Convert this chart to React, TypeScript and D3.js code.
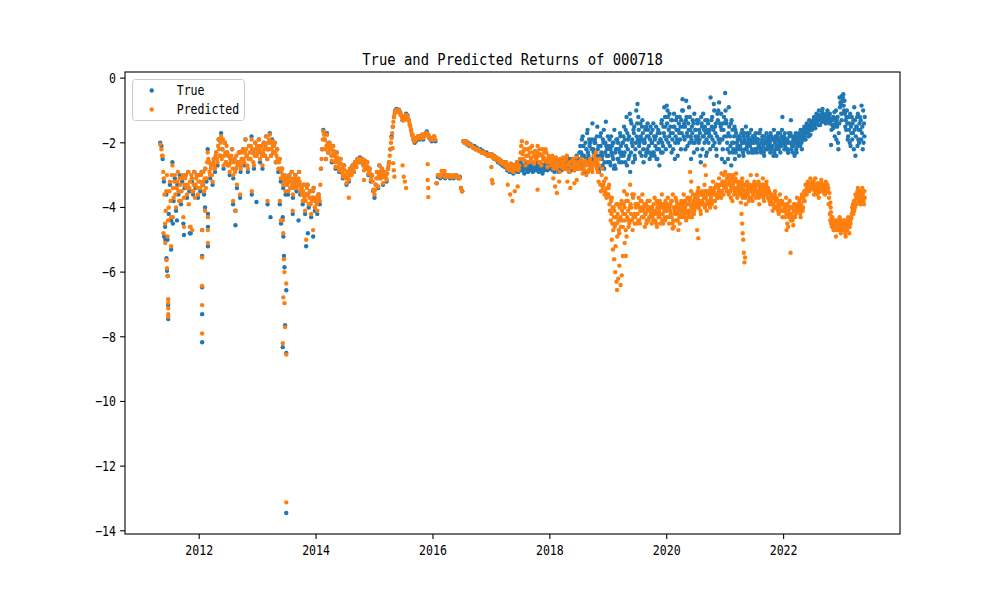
import React from "react";
import * as d3 from "d3";

// values sampled every 1/48 year, one array per calendar year (2011 is right-aligned to year end).
// "b"/"c" arrays are extra readings taken between those samples where the cloud is dense.
const STEP = 1 / 48;

const true2011 = [-2.0, -2.1, -2.5, -3.2, -4.6, -3.6, -5.0, -4.2, -3.3, -4.4, -2.6, -3.8, -3.1, -4.1, -3.3, -3.6, -3.0, -3.9, -3.2, -4.5, -3.4, -3.0, -3.7, -2.9, -3.5, -4.8, -3.2, -3.6, -2.9, -3.4, -3.0, -3.7];
const true2012 = [
  -3.0, -3.5, -2.9, -3.3, -3.6, -2.8, -3.2, -2.2, -2.6, -3.1, -2.7, -3.3,
  -2.5, -2.9, -2.3, -2.7, -1.9, -2.4, -1.7, -2.2, -2.8, -2.0, -2.6, -2.3,
  -2.4, -3.0, -2.6, -2.2, -3.1, -2.5, -2.8, -3.4, -2.6, -2.3, -2.9, -2.5,
  -2.2, -2.7, -1.9, -2.4, -2.9, -2.1, -2.5, -1.8, -2.3, -2.8, -2.0, -2.4,
];
const true2013 = [
  -2.3, -1.9, -2.6, -2.1, -2.8, -2.0, -2.4, -1.8, -2.5, -2.2, -1.7, -2.4,
  -1.9, -2.3, -2.0, -2.6, -2.2, -2.9, -2.5, -3.2, -2.8, -3.4, -3.0, -3.6,
  -3.1, -3.6, -3.0, -3.4, -2.9, -3.7, -3.2, -3.0, -3.5, -3.3, -2.9, -3.6,
  -3.4, -3.9, -3.3, -4.2, -3.6, -3.3, -4.0, -3.5, -4.3, -3.7, -3.4, -4.1,
];
const true2014 = [
  -3.8, -4.2, -3.6, -3.9, -2.8, -2.2, -1.6, -1.9, -2.5, -1.7, -2.3, -2.0,
  -2.2, -2.6, -2.1, -2.4, -2.8, -2.3, -2.6, -2.9, -2.5, -2.8, -3.1, -2.7,
  -3.0, -3.3, -2.9, -3.2, -2.8, -3.0, -2.7, -2.9, -2.6, -2.75, -2.5, -2.6,
  -2.45, -2.6, -2.5, -2.7, -2.55, -2.8, -2.6, -3.0, -2.8, -3.2, -3.0, -3.5,
];
const true2015 = [
  -3.7, -3.3, -2.9, -3.4, -2.7, -3.1, -2.8, -3.3, -2.9, -3.0, -3.2, -2.8,
  -2.6, -2.2, -1.8, -1.5, -1.2, -1.0, -0.95, -1.0, -0.98, -1.05, -1.15, -1.3,
  -1.3, -1.2, -1.1, -1.15, -1.3, -1.45, -1.6, -1.75, -1.9, -2.0, -1.95, -1.85,
  -1.8, -1.9, -1.85, -1.75, -1.9, -1.8, -1.7, -1.65, -1.75, -1.85, -1.9, -1.95,
];
const true2016 = [
  -1.9, -1.8, -1.95, -3.25, -3.05, -3.0, -3.1, -3.05, -3.0, -3.05, -3.1, -3.0,
  -3.05, -3.0, -3.1, -3.05, -3.05, -3.1, -3.05, -3.0, -3.05, -3.1, -3.05, -3.4,
  -3.5, -1.95, -2.0, -1.95, -2.05, -2.0, -2.1, -2.05, -2.1, -2.15, -2.1, -2.2,
  -2.15, -2.2, -2.25, -2.2, -2.3, -2.25, -2.3, -2.35, -2.3, -2.4, -2.35, -2.4,
];
const true2017 = [
  -2.35, -2.45, -2.4, -2.5, -2.45, -2.55, -2.5, -2.6, -2.55, -2.7, -2.6, -2.75,
  -2.6, -2.85, -2.7, -2.9, -2.65, -2.8, -2.95, -2.7, -2.85, -2.6, -2.9, -2.75,
  -2.6, -2.85, -2.7, -2.95, -2.75, -2.6, -2.9, -2.7, -2.8, -2.65, -2.9, -2.75,
  -2.7, -2.85, -2.6, -2.9, -2.75, -2.65, -2.95, -2.7, -2.8, -2.6, -2.85, -2.7,
];
const true2017b = [
  -2.4, -2.45, -2.5, -2.5, -2.5, -2.6, -2.55, -2.65, -2.6, -2.7, -2.65, -2.7,
  -2.75, -2.7, -2.8, -2.75, -2.9, -2.7, -2.8, -2.85, -2.75, -2.9, -2.7, -2.85,
  -2.8, -2.7, -2.85, -2.8, -2.65, -2.8, -2.75, -2.85, -2.7, -2.8, -2.75, -2.85,
  -2.8, -2.7, -2.8, -2.75, -2.85, -2.8, -2.7, -2.85, -2.7, -2.75, -2.8, -2.75,
];
const true2018 = [
  -2.6, -2.8, -2.5, -2.75, -2.9, -2.6, -2.7, -2.55, -2.85, -2.65, -2.75, -2.5,
  -2.6, -2.8, -2.45, -2.7, -2.9, -2.6, -2.75, -2.5, -2.85, -2.6, -2.4, -2.7,
  -2.5, -2.1, -2.8, -1.8, -2.4, -2.9, -2.2, -1.6, -2.6, -2.0, -2.7, -1.4,
  -2.3, -1.9, -2.7, -1.5, -2.1, -2.8, -1.7, -2.4, -2.0, -2.6, -1.35, -2.2,
];
const true2018b = [
  -2.7, -2.55, -2.85, -2.65, -2.75, -2.5, -2.8, -2.9, -2.6, -2.75, -2.55, -2.7,
  -2.75, -2.55, -2.65, -2.85, -2.5, -2.7, -2.6, -2.8, -2.55, -2.7, -2.6, -2.5,
  -2.3, -2.6, -1.9, -2.4, -2.7, -2.0, -2.5, -2.3, -1.9, -2.8, -2.2, -2.5,
  -2.6, -2.0, -2.4, -2.2, -2.9, -1.8, -2.3, -2.7, -1.6, -2.3, -2.1, -2.6,
];
const true2018c = [
  -2.8, -2.65, -2.6, -2.8, -2.55, -2.75, -2.65, -2.6, -2.75, -2.85, -2.6, -2.8,
  -2.5, -2.7, -2.8, -2.55, -2.75, -2.85, -2.5, -2.65, -2.75, -2.5, -2.8, -2.6,
  -2.7, -2.3, -2.4, -2.1, -2.9, -2.5, -1.7, -2.4, -2.1, -2.5, -1.9, -2.2,
  -2.0, -2.5, -1.8, -2.9, -2.4, -2.1, -2.5, -1.9, -2.8, -2.0, -2.4, -1.8,
];
const true2019 = [
  -2.4, -1.9, -2.7, -2.1, -2.5, -1.6, -2.8, -2.2, -2.0, -2.6, -1.8, -2.3,
  -2.0, -1.5, -2.6, -1.2, -2.2, -1.8, -2.9, -1.4, -2.1, -1.7, -2.5, -1.0,
  -0.8, -1.6, -2.3, -1.9, -1.3, -2.6, -2.0, -1.5, -2.2, -1.8, -2.5, -1.7,
  -2.0, -1.4, -2.4, -1.8, -2.2, -1.6, -2.7, -1.9, -1.3, -2.1, -0.9, -1.5,
];
const true2019b = [
  -2.1, -2.6, -1.8, -2.4, -2.0, -2.7, -2.2, -1.9, -2.5, -2.3, -2.1, -2.6,
  -1.8, -2.3, -1.6, -2.7, -1.9, -2.4, -1.3, -2.0, -2.6, -1.5, -2.2, -1.8,
  -1.9, -2.1, -1.4, -2.4, -1.7, -2.0, -1.6, -2.3, -1.4, -2.1, -1.9, -2.4,
  -1.6, -2.3, -1.9, -1.5, -2.5, -2.0, -1.7, -2.3, -2.0, -1.5, -1.8, -2.2,
];
const true2019c = [
  -2.6, -2.2, -2.3, -2.0, -2.8, -2.3, -1.9, -2.5, -2.2, -1.7, -2.4, -2.0,
  -2.4, -1.9, -2.1, -1.7, -2.5, -1.1, -2.3, -1.9, -1.6, -2.4, -2.0, -1.4,
  -1.2, -2.0, -1.8, -1.5, -2.2, -1.9, -2.4, -1.8, -1.6, -2.3, -1.5, -2.0,
  -2.3, -1.8, -2.1, -2.5, -1.7, -2.2, -1.9, -1.4, -2.3, -1.7, -1.2, -1.9,
];
const true2020 = [
  -0.85, -1.2, -1.8, -1.5, -2.3, -1.7, -1.1, -2.0, -1.6, -2.4, -1.4, -1.9,
  -1.3, -0.65, -1.8, -1.5, -0.7, -2.1, -1.6, -1.2, -2.5, -1.7, -1.4, -2.0,
  -1.6, -2.2, -1.3, -1.9, -2.6, -1.5, -1.1, -2.0, -1.7, -2.3, -1.4, -1.8,
  -0.6, -1.5, -2.1, -1.0, -1.7, -2.4, -1.3, -0.75, -1.9, -1.6, -2.2, -1.2,
];
const true2020b = [
  -1.4, -2.0, -1.1, -1.7, -1.3, -2.2, -1.5, -1.8, -1.2, -2.0, -1.7, -1.5,
  -1.7, -1.0, -1.4, -2.2, -1.2, -1.8, -0.9, -1.6, -1.9, -1.3, -2.3, -1.6,
  -1.9, -1.4, -2.0, -1.7, -1.2, -2.2, -1.8, -1.5, -2.4, -1.3, -2.0, -1.6,
  -1.8, -1.2, -1.6, -2.0, -1.4, -1.8, -1.0, -2.0, -1.5, -2.5, -1.4, -1.8,
];
const true2020c = [
  -1.0, -1.6, -2.1, -1.3, -1.9, -1.5, -2.5, -1.3, -1.9, -1.6, -1.2, -2.2,
  -1.0, -1.5, -1.9, -1.3, -1.7, -1.4, -2.0, -1.8, -1.5, -2.0, -1.1, -1.8,
  -1.3, -1.8, -1.6, -2.4, -1.4, -1.8, -1.6, -1.3, -1.9, -1.6, -1.7, -2.2,
  -1.3, -1.9, -0.8, -1.5, -2.2, -1.1, -1.9, -1.4, -1.1, -1.9, -1.6, -2.6,
];
const true2021 = [
  -0.46, -1.4, -2.2, -0.9, -1.8, -2.7, -1.6, -2.0, -2.5, -1.7, -2.1, -1.9,
  -1.8, -2.2, -1.6, -2.4, -1.9, -1.5, -2.1, -2.3, -1.7, -2.0, -2.2, -1.8,
  -2.0, -1.7, -2.3, -1.9, -2.1, -1.6, -2.2, -1.8, -2.4, -2.0, -1.7, -2.1,
  -1.9, -2.3, -1.8, -2.1, -1.6, -2.0, -2.4, -1.9, -2.2, -1.7, -2.1, -1.2,
];
const true2021b = [
  -1.0, -1.8, -2.5, -1.5, -2.1, -1.3, -2.3, -1.8, -1.6, -2.2, -1.9, -2.4,
  -2.1, -1.7, -2.0, -1.8, -2.2, -2.0, -1.7, -1.9, -2.1, -1.6, -2.0, -2.3,
  -1.8, -2.2, -1.9, -2.1, -1.7, -2.3, -1.9, -2.1, -1.8, -2.2, -2.0, -1.9,
  -2.1, -1.7, -2.2, -1.9, -2.3, -1.8, -2.1, -1.7, -2.0, -2.3, -1.8, -2.0,
];
const true2021c = [
  -1.3, -2.0, -1.7, -2.3, -1.4, -2.0, -2.2, -1.5, -2.3, -2.0, -1.8, -2.2,
  -1.9, -2.0, -2.3, -1.7, -2.0, -2.2, -1.8, -2.0, -1.9, -2.3, -1.8, -1.9,
  -2.2, -1.9, -2.0, -1.7, -2.2, -2.0, -1.8, -2.3, -2.0, -1.9, -2.2, -1.8,
  -2.0, -2.2, -1.9, -2.4, -1.9, -2.2, -1.8, -2.1, -1.9, -2.0, -1.6, -1.9,
];
const true2022 = [
  -2.0, -1.7, -2.2, -1.9, -2.3, -1.8, -1.3, -2.1, -1.9, -2.4, -1.7, -2.0,
  -2.1, -1.8, -1.6, -2.2, -1.7, -1.5, -1.9, -1.4, -1.65, -1.3, -1.75, -1.5,
  -1.4, -1.2, -1.55, -1.1, -1.3, -1.0, -1.45, -1.2, -0.95, -1.35, -1.15, -1.25,
  -1.0, -1.3, -1.1, -2.07, -1.45, -1.2, -1.8, -1.0, -1.5, -2.2, -0.6, -0.8,
];
const true2022b = [
  -1.8, -2.1, -1.9, -2.2, -1.7, -2.0, -2.2, -1.8, -2.1, -1.9, -2.2, -1.8,
  -1.9, -2.0, -1.8, -1.9, -1.6, -1.8, -1.5, -1.7, -1.5, -1.6, -1.4, -1.6,
  -1.3, -1.45, -1.25, -1.35, -1.15, -1.3, -1.2, -1.35, -1.1, -1.25, -1.3, -1.1,
  -1.2, -1.15, -1.35, -1.6, -1.3, -1.5, -1.25, -1.9, -1.2, -1.7, -0.9, -1.1,
];
const true2022c = [
  -2.2, -1.9, -2.0, -2.3, -2.0, -1.7, -2.0, -2.3, -1.8, -2.0, -2.3, -2.1,
  -1.7, -2.1, -2.0, -1.7, -1.9, -1.7, -1.6, -1.5, -1.8, -1.45, -1.6, -1.35,
  -1.5, -1.3, -1.4, -1.2, -1.45, -1.15, -1.3, -1.05, -1.25, -1.15, -1.4, -1.2,
  -1.1, -1.4, -1.25, -1.3, -1.55, -1.05, -1.4, -1.3, -2.0, -1.4, -0.75, -1.3,
];
const true2023 = [-0.55, -0.5, -0.7, -1.3, -1.0, -1.8, -1.4, -2.1, -1.2, -1.7, -0.9, -2.4, -1.5, -1.1, -2.0, -1.6, -0.85, -2.2, -1.4];
const true2023b = [-0.7, -0.85, -1.1, -1.6, -1.4, -1.2, -2.0, -1.5, -1.9, -1.3, -1.6, -1.8, -1.2, -1.9, -1.4, -1.3, -1.7, -1.0, -1.8];
const true2023c = [-0.6, -1.0, -1.5, -1.2, -1.9, -1.6, -1.1, -1.7, -1.4, -2.2, -1.3, -1.5, -2.1, -1.6, -1.2, -1.9, -1.5, -2.0, -1.2];

const pred2011 = [-2.05, -2.2, -2.4, -3.1, -4.5, -3.5, -4.9, -4.0, -3.2, -4.3, -2.7, -3.7, -3.0, -4.0, -3.2, -3.5, -3.1, -3.8, -3.1, -4.3, -3.3, -3.0, -3.6, -2.9, -3.4, -4.6, -3.1, -3.5, -2.9, -3.3, -3.0, -3.6];
const pred2011b = [-2.4, -2.9, -3.6, -4.1, -3.0, -4.4, -3.5, -3.8, -3.0, -3.4, -3.2, -3.6, -3.4, -2.9, -3.8, -3.3, -3.5, -3.0, -3.7, -3.1, -3.4, -3.3, -3.9, -3.2, -3.0, -3.5, -3.3, -3.7, -3.1, -3.4, -3.2];
const pred2012 = [
  -3.0, -3.4, -2.9, -3.2, -3.5, -2.8, -3.1, -2.3, -2.6, -3.0, -2.7, -3.2,
  -2.5, -2.8, -2.3, -2.6, -1.9, -2.4, -1.8, -2.2, -2.7, -2.0, -2.6, -2.3,
  -2.4, -2.9, -2.6, -2.2, -3.0, -2.5, -2.8, -3.3, -2.6, -2.3, -2.8, -2.5,
  -2.2, -2.6, -1.9, -2.4, -2.8, -2.1, -2.5, -1.9, -2.3, -2.7, -2.0, -2.4,
];
const pred2012b = [
  -3.2, -3.0, -3.3, -2.9, -3.1, -3.4, -2.6, -2.5, -2.9, -2.8, -3.0, -2.6,
  -2.7, -2.4, -2.5, -2.1, -2.2, -2.0, -2.5, -1.9, -2.4, -2.3, -2.1, -2.7,
  -2.7, -2.5, -2.4, -2.8, -2.6, -2.9, -2.4, -2.7, -2.3, -2.6, -2.7, -2.3,
  -2.5, -2.3, -2.2, -2.7, -2.5, -2.3, -2.1, -2.2, -2.6, -2.4, -2.2, -2.1,
];
const pred2013 = [
  -2.3, -1.9, -2.5, -2.1, -2.7, -2.0, -2.4, -1.8, -2.5, -2.2, -1.75, -2.4,
  -1.95, -2.3, -2.0, -2.6, -2.2, -2.8, -2.5, -3.1, -2.8, -3.3, -3.0, -3.5,
  -3.1, -3.5, -3.0, -3.4, -2.9, -3.6, -3.2, -3.0, -3.4, -3.3, -2.9, -3.5,
  -3.4, -3.8, -3.3, -4.1, -3.6, -3.3, -3.9, -3.5, -4.2, -3.7, -3.4, -4.0,
];
const pred2013b = [
  -2.1, -2.2, -2.3, -2.4, -2.3, -2.2, -2.1, -2.2, -2.0, -1.9, -2.0, -2.2,
  -2.1, -2.1, -2.3, -2.4, -2.5, -2.6, -2.8, -2.9, -3.0, -3.1, -3.2, -3.3,
  -3.3, -3.2, -3.2, -3.1, -3.3, -3.4, -3.1, -3.3, -3.2, -3.1, -3.2, -3.3,
  -3.6, -3.5, -3.7, -3.8, -3.4, -3.6, -3.7, -3.9, -3.8, -3.5, -3.7, -3.8,
];
const pred2014 = [
  -3.7, -4.1, -3.6, -3.8, -2.8, -2.2, -1.65, -1.9, -2.5, -1.75, -2.3, -2.0,
  -2.2, -2.55, -2.1, -2.4, -2.75, -2.3, -2.6, -2.85, -2.5, -2.8, -3.05, -2.7,
  -3.0, -3.25, -2.9, -3.15, -2.8, -3.0, -2.7, -2.9, -2.6, -2.75, -2.5, -2.6,
  -2.5, -2.6, -2.5, -2.7, -2.55, -2.8, -2.6, -2.95, -2.8, -3.15, -3.0, -3.45,
];
const pred2014b = [
  -3.9, -3.8, -3.7, -3.3, -2.5, -1.9, -1.75, -2.2, -2.1, -2.0, -2.15, -2.1,
  -2.4, -2.35, -2.25, -2.6, -2.5, -2.45, -2.75, -2.65, -2.65, -2.95, -2.85, -2.85,
  -3.1, -3.1, -3.05, -3.0, -2.9, -2.85, -2.8, -2.75, -2.7, -2.6, -2.55, -2.5,
  -2.55, -2.55, -2.6, -2.6, -2.65, -2.7, -2.75, -2.85, -2.95, -3.05, -3.2, -3.5,
];
const pred2015 = [
  -3.6, -3.3, -2.9, -3.35, -2.7, -3.1, -2.8, -3.25, -2.9, -3.0, -3.15, -2.8,
  -2.6, -2.2, -1.85, -1.5, -1.2, -1.05, -1.0, -1.05, -1.0, -1.1, -1.15, -1.3,
  -1.3, -1.2, -1.15, -1.2, -1.3, -1.45, -1.6, -1.75, -1.9, -1.95, -1.9, -1.85,
  -1.8, -1.85, -1.85, -1.75, -1.85, -1.8, -1.7, -1.7, -1.75, -1.8, -1.85, -1.9,
];
const pred2015b = [
  -3.45, -3.1, -3.1, -3.0, -2.9, -2.95, -3.05, -3.05, -2.95, -3.1, -2.95, -2.7,
  -2.4, -2.0, -1.7, -1.35, -1.1, -1.0, -1.0, -1.0, -1.05, -1.1, -1.2, -1.3,
  -1.25, -1.15, -1.15, -1.25, -1.35, -1.5, -1.7, -1.8, -1.95, -1.9, -1.85, -1.8,
  -1.85, -1.8, -1.8, -1.8, -1.8, -1.75, -1.7, -1.75, -1.8, -1.85, -1.9, -1.9,
];
const pred2016 = [
  -1.85, -1.8, -1.9, -3.25, -3.0, -3.0, -3.05, -3.0, -2.9, -2.9, -3.05, -3.0,
  -3.05, -3.0, -3.05, -3.05, -3.0, -3.05, -3.05, -3.0, -3.05, -3.05, -3.1, -3.4,
  -3.5, -1.95, -2.0, -1.95, -2.0, -2.05, -2.05, -2.1, -2.1, -2.15, -2.15, -2.2,
  -2.2, -2.2, -2.25, -2.25, -2.3, -2.3, -2.3, -2.35, -2.35, -2.4, -2.35, -2.4,
];
const pred2017 = [
  -2.35, -2.45, -2.4, -2.5, -2.45, -2.5, -2.5, -2.6, -2.55, -2.65, -2.6, -2.7,
  -2.6, -2.8, -2.7, -2.85, -2.65, -2.75, -2.9, -2.7, -2.8, -2.6, -2.85, -2.7,
  -2.3, -1.95, -2.5, -2.2, -2.7, -2.0, -2.4, -2.6, -2.15, -2.45, -2.3, -2.65,
  -2.25, -2.5, -2.1, -2.6, -2.35, -2.7, -2.2, -2.45, -2.55, -2.3, -2.75, -2.4,
];
const pred2017b = [
  -2.4, -2.45, -2.45, -2.5, -2.5, -2.55, -2.55, -2.6, -2.6, -2.65, -2.65, -2.7,
  -2.7, -2.75, -2.8, -2.75, -2.7, -2.85, -2.8, -2.75, -2.7, -2.75, -2.8, -2.5,
  -2.1, -2.35, -2.25, -2.55, -2.4, -2.2, -2.6, -2.3, -2.5, -2.1, -2.6, -2.4,
  -2.5, -2.3, -2.4, -2.2, -2.6, -2.4, -2.5, -2.3, -2.2, -2.6, -2.5, -2.6,
];
const pred2018 = [
  -2.5, -2.7, -2.4, -2.8, -2.6, -2.45, -2.75, -2.55, -2.9, -2.6, -2.7, -2.45,
  -2.55, -2.8, -2.4, -2.7, -2.9, -2.6, -2.75, -2.5, -2.85, -2.6, -2.45, -2.7,
  -2.6, -2.8, -2.5, -2.95, -2.7, -2.55, -3.0, -2.65, -2.85, -2.5, -2.75, -2.9,
  -2.4, -2.7, -2.3, -2.6, -3.2, -2.5, -3.5, -2.8, -3.3, -3.6, -3.1, -3.4,
];
const pred2018b = [
  -2.6, -2.55, -2.65, -2.5, -2.7, -2.8, -2.6, -2.7, -2.5, -2.75, -2.6, -2.8,
  -2.7, -2.5, -2.65, -2.85, -2.6, -2.75, -2.55, -2.7, -2.6, -2.75, -2.8, -2.6,
  -2.7, -2.55, -2.8, -2.6, -2.85, -2.7, -2.6, -2.9, -2.7, -2.6, -2.8, -2.7,
  -2.6, -2.5, -2.8, -2.9, -2.7, -3.3, -3.0, -3.4, -3.2, -3.5, -3.7, -3.6,
];
const pred2019 = [
  -3.6, -3.9, -4.4, -3.7, -4.7, -4.1, -5.2, -4.5, -3.9, -4.8, -4.3, -3.8,
  -4.6, -3.5, -4.2, -4.9, -3.8, -4.4, -3.3, -4.0, -4.7, -3.6, -4.3, -3.9,
  -4.2, -3.7, -4.5, -4.0, -3.6, -4.3, -4.6, -3.9, -4.1, -4.4, -3.8, -4.2,
  -4.0, -4.4, -3.7, -4.2, -4.6, -3.9, -4.3, -4.0, -3.6, -4.5, -4.1, -3.8,
];
const pred2019b = [
  -3.4, -4.1, -3.8, -4.5, -4.0, -4.6, -4.3, -4.9, -4.4, -4.0, -4.6, -4.1,
  -4.2, -4.0, -4.7, -3.6, -4.1, -4.5, -3.9, -4.4, -3.7, -4.2, -3.9, -4.5,
  -3.9, -4.4, -4.1, -3.8, -4.3, -4.0, -4.2, -4.5, -3.8, -4.0, -4.3, -4.0,
  -4.3, -3.9, -4.1, -4.5, -4.0, -4.3, -3.8, -4.2, -4.4, -3.9, -4.3, -4.1,
];
const pred2019c = [
  -3.3, -3.7, -4.2, -4.0, -4.3, -4.5, -3.9, -4.2, -4.7, -4.4, -3.9, -4.4,
  -3.9, -4.4, -3.8, -4.3, -4.6, -4.0, -4.2, -3.6, -4.3, -4.5, -4.0, -4.2,
  -4.4, -4.0, -3.8, -4.3, -4.1, -3.9, -4.2, -4.4, -4.0, -4.3, -4.1, -4.5,
  -4.1, -4.2, -4.4, -3.8, -4.2, -4.1, -4.5, -3.9, -4.2, -4.0, -4.4, -4.0,
];
const pred2020 = [
  -4.1, -3.7, -4.5, -3.9, -4.3, -3.6, -4.6, -4.0, -3.8, -4.4, -3.9, -4.2,
  -3.8, -4.3, -3.6, -4.0, -4.4, -3.7, -4.1, -3.9, -3.5, -4.2, -3.8, -4.0,
  -3.6, -4.0, -3.4, -3.8, -4.2, -3.5, -3.9, -3.3, -3.7, -4.1, -3.5, -3.8,
  -3.4, -3.9, -3.2, -3.6, -4.0, -3.3, -3.7, -3.1, -3.5, -2.95, -3.3, -3.0,
];
const pred2020b = [
  -3.9, -4.3, -4.0, -4.2, -3.8, -4.4, -4.1, -3.7, -4.2, -4.0, -4.3, -3.9,
  -4.1, -3.9, -4.2, -3.8, -4.1, -3.9, -4.3, -3.7, -4.0, -3.9, -4.2, -3.7,
  -3.9, -3.7, -4.0, -3.6, -3.9, -3.8, -3.6, -4.0, -3.5, -3.8, -3.9, -3.6,
  -3.7, -3.5, -3.8, -3.4, -3.6, -3.7, -3.4, -3.6, -3.3, -3.5, -3.2, -3.4,
];
const pred2020c = [
  -4.3, -4.0, -4.1, -3.8, -4.5, -4.0, -4.2, -4.4, -3.9, -4.1, -4.5, -4.0,
  -3.9, -4.1, -3.8, -4.3, -3.9, -4.2, -3.8, -4.1, -4.3, -3.6, -4.1, -3.9,
  -3.8, -3.5, -3.9, -4.1, -3.6, -3.9, -3.7, -3.5, -3.9, -3.6, -3.8, -4.0,
  -3.6, -3.8, -3.5, -3.8, -3.3, -3.6, -3.5, -3.3, -3.7, -3.2, -3.6, -3.3,
];
const pred2021 = [
  -2.9, -3.3, -3.1, -3.6, -3.0, -3.4, -3.8, -3.2, -3.5, -2.95, -3.7, -3.3,
  -3.4, -3.85, -3.1, -3.6, -3.3, -3.9, -3.2, -3.5, -3.7, -3.0, -3.4, -3.6,
  -3.2, -3.7, -3.0, -3.5, -3.9, -3.3, -3.6, -3.1, -3.8, -3.4, -3.2, -3.7,
  -3.5, -3.9, -3.6, -4.1, -3.7, -3.5, -4.0, -3.8, -4.2, -3.6, -3.9, -4.3,
];
const pred2021b = [
  -3.2, -3.5, -3.0, -3.3, -3.5, -3.1, -3.3, -3.6, -3.1, -3.4, -3.2, -3.5,
  -3.3, -3.5, -3.7, -3.3, -3.5, -3.6, -3.4, -3.8, -3.3, -3.5, -3.8, -3.3,
  -3.5, -3.3, -3.6, -3.2, -3.4, -3.6, -3.4, -3.7, -3.3, -3.5, -3.6, -3.4,
  -3.8, -3.6, -3.9, -3.7, -4.0, -3.8, -3.7, -4.1, -3.9, -3.8, -4.1, -3.9,
];
const pred2021c = [
  -3.4, -3.1, -3.5, -3.2, -3.7, -3.3, -3.0, -3.4, -3.2, -3.6, -3.4, -3.2,
  -3.6, -3.2, -3.4, -3.5, -3.7, -3.3, -3.6, -3.4, -3.5, -3.7, -3.5, -3.4,
  -3.4, -3.5, -3.3, -3.7, -3.5, -3.4, -3.3, -3.5, -3.6, -3.3, -3.5, -3.5,
  -3.7, -3.8, -3.7, -3.9, -3.6, -4.0, -3.8, -3.9, -4.0, -4.1, -3.8, -4.1,
];
const pred2022 = [
  -3.9, -4.3, -3.7, -4.5, -4.1, -3.8, -4.4, -4.0, -4.55, -3.9, -4.2, -3.7,
  -4.1, -3.8, -4.3, -3.6, -4.0, -3.5, -3.3, -3.6, -3.2, -3.5, -3.1, -3.4,
  -3.3, -3.6, -3.1, -3.45, -3.25, -3.7, -3.35, -3.15, -3.5, -3.3, -3.6, -3.4,
  -3.3, -3.9, -4.2, -4.5, -4.3, -4.7, -4.4, -4.9, -4.5, -4.6, -4.3, -4.8,
];
const pred2022b = [
  -4.1, -4.0, -4.2, -3.9, -4.3, -4.0, -4.2, -4.4, -4.1, -4.3, -4.0, -4.0,
  -3.9, -4.1, -3.9, -4.0, -3.7, -3.8, -3.5, -3.4, -3.45, -3.3, -3.35, -3.25,
  -3.45, -3.35, -3.5, -3.3, -3.55, -3.4, -3.5, -3.3, -3.4, -3.55, -3.35, -3.5,
  -3.5, -3.7, -4.4, -4.3, -4.6, -4.5, -4.6, -4.4, -4.7, -4.5, -4.4, -4.6,
];
const pred2022c = [
  -4.0, -4.1, -3.9, -4.2, -4.0, -4.2, -4.0, -4.3, -3.9, -4.1, -4.1, -3.9,
  -4.0, -4.2, -3.7, -4.1, -3.8, -3.6, -3.45, -3.3, -3.35, -3.4, -3.3, -3.2,
  -3.2, -3.4, -3.3, -3.6, -3.35, -3.45, -3.25, -3.4, -3.3, -3.45, -3.2, -3.3,
  -3.4, -3.55, -4.0, -4.6, -4.4, -4.5, -4.7, -4.55, -4.6, -4.4, -4.7, -4.5,
];
const pred2023 = [-4.5, -4.7, -4.4, -4.9, -4.6, -4.3, -4.8, -4.5, -4.2, -3.9, -4.1, -3.6, -3.9, -3.4, -3.7, -3.5, -3.8, -3.6, -3.9];
const pred2023b = [-4.6, -4.5, -4.65, -4.4, -4.7, -4.5, -4.6, -4.35, -4.0, -4.2, -3.8, -3.9, -3.6, -3.7, -3.5, -3.9, -3.6, -3.7, -3.5];
const pred2023c = [-4.4, -4.6, -4.8, -4.5, -4.4, -4.6, -4.4, -4.3, -4.1, -3.8, -4.0, -3.7, -3.5, -3.8, -3.6, -3.7, -3.4, -3.8, -3.7];

// isolated points off the main band: [year, value]
const trueOutliers: [number, number][] = [
  [2011.40, -4.9], [2011.42, -5.0], [2011.44, -5.57], [2011.45, -5.96], [2011.46, -6.12],
  [2011.47, -7.02], [2011.47, -7.45], [2011.52, -5.3], [2011.55, -4.5], [2011.62, -4.4],
  [2011.74, -4.85], [2011.84, -4.8],
  [2012.05, -4.7], [2012.05, -5.5], [2012.05, -6.47], [2012.05, -7.3], [2012.05, -8.17],
  [2012.10, -4.0], [2012.15, -4.2], [2012.15, -4.6], [2012.15, -5.2], [2012.58, -3.9],
  [2012.62, -4.1], [2012.62, -4.55], [2012.70, -3.7], [2012.90, -3.6], [2012.98, -3.83],
  [2013.17, -3.9], [2013.22, -4.3], [2013.38, -3.9], [2013.40, -4.5], [2013.43, -4.3],
  [2013.44, -4.9], [2013.45, -5.5], [2013.46, -5.85], [2013.49, -6.56], [2013.47, -7.64],
  [2013.43, -8.32], [2013.49, -8.5], [2013.49, -13.45], [2013.60, -4.2], [2013.70, -4.4],
  [2013.83, -5.2], [2013.86, -4.8], [2013.95, -4.9],
];
const predOutliers: [number, number][] = [
  [2011.39, -4.8], [2011.42, -5.1], [2011.44, -5.63], [2011.45, -5.88], [2011.46, -6.12],
  [2011.47, -6.84], [2011.47, -6.95], [2011.47, -7.12], [2011.47, -7.3], [2011.47, -7.38],
  [2011.52, -5.2], [2011.55, -4.3], [2011.74, -4.6], [2011.84, -4.6], [2011.88, -4.7],
  [2012.05, -4.7], [2012.05, -5.55], [2012.05, -6.43], [2012.05, -7.02], [2012.05, -7.9],
  [2012.10, -4.1], [2012.15, -4.3], [2012.15, -4.7], [2012.15, -5.1], [2012.58, -3.8],
  [2012.62, -4.1], [2012.70, -3.6], [2012.90, -3.5],
  [2013.17, -3.8], [2013.38, -3.8], [2013.40, -4.4], [2013.43, -4.4], [2013.44, -4.8],
  [2013.45, -5.6], [2013.46, -6.0], [2013.49, -6.35], [2013.44, -6.78], [2013.46, -6.96],
  [2013.47, -7.7], [2013.43, -8.2], [2013.49, -8.55], [2013.49, -13.12], [2013.60, -4.1],
  [2013.83, -5.0], [2013.95, -4.7],
  [2014.56, -3.7], [2014.82, -2.85], [2014.82, -3.15], [2015.31, -2.17], [2015.32, -2.63],
  [2015.33, -2.85], [2015.34, -3.05], [2015.48, -2.7], [2015.50, -3.05], [2015.52, -3.2],
  [2015.54, -3.4], [2015.91, -2.66], [2015.91, -3.15], [2015.92, -3.4], [2015.92, -3.68],
  [2016.15, -2.87], [2016.20, -2.87],
  [2017.00, -2.75], [2017.01, -3.15], [2017.02, -3.25], [2017.28, -3.3], [2017.32, -3.6],
  [2017.36, -3.8], [2017.40, -3.5], [2017.45, -3.35], [2017.79, -3.45],
  [2018.06, -3.1], [2018.09, -3.35], [2018.12, -3.55], [2018.16, -3.2], [2018.30, -3.2],
  [2018.35, -3.4], [2018.42, -3.25], [2018.46, -3.15],
  [2019.06, -5.0], [2019.08, -5.3], [2019.10, -5.6], [2019.12, -6.0], [2019.14, -6.3],
  [2019.15, -6.55], [2019.17, -6.2], [2019.19, -5.8], [2019.21, -6.4], [2019.23, -6.1],
  [2019.25, -5.5], [2019.28, -5.1], [2019.30, -5.5],
  [2020.10, -4.65], [2020.20, -4.7], [2020.40, -2.9], [2020.42, -3.2], [2020.52, -4.7],
  [2020.54, -4.95], [2020.65, -2.7], [2020.67, -3.0],
  [2021.28, -4.2], [2021.29, -4.5], [2021.30, -4.8], [2021.31, -5.0], [2021.32, -5.4],
  [2021.33, -5.7], [2021.34, -5.55],
  [2022.05, -4.7], [2022.08, -4.6], [2022.12, -5.4], [2022.80, -3.85], [2022.81, -4.15],
];

// [year, values, phase within a step]
type Chunk = [number, number[], number];
const trueChunks: Chunk[] = [
  [2011, true2011, 0], [2012, true2012, 0], [2013, true2013, 0], [2014, true2014, 0],
  [2015, true2015, 0], [2016, true2016, 0], [2017, true2017, 0], [2017, true2017b, 0.5],
  [2018, true2018, 0], [2018, true2018b, 1 / 3], [2018, true2018c, 2 / 3],
  [2019, true2019, 0], [2019, true2019b, 1 / 3], [2019, true2019c, 2 / 3],
  [2020, true2020, 0], [2020, true2020b, 1 / 3], [2020, true2020c, 2 / 3],
  [2021, true2021, 0], [2021, true2021b, 1 / 3], [2021, true2021c, 2 / 3],
  [2022, true2022, 0], [2022, true2022b, 1 / 3], [2022, true2022c, 2 / 3],
  [2023, true2023, 0], [2023, true2023b, 1 / 3], [2023, true2023c, 2 / 3],
];
const predChunks: Chunk[] = [
  [2011, pred2011, 0], [2011, pred2011b, 0.5], [2012, pred2012, 0], [2012, pred2012b, 0.5],
  [2013, pred2013, 0], [2013, pred2013b, 0.5], [2014, pred2014, 0], [2014, pred2014b, 0.5],
  [2015, pred2015, 0], [2015, pred2015b, 0.5], [2016, pred2016, 0],
  [2017, pred2017, 0], [2017, pred2017b, 0.5], [2018, pred2018, 0], [2018, pred2018b, 0.5],
  [2019, pred2019, 0], [2019, pred2019b, 1 / 3], [2019, pred2019c, 2 / 3],
  [2020, pred2020, 0], [2020, pred2020b, 1 / 3], [2020, pred2020c, 2 / 3],
  [2021, pred2021, 0], [2021, pred2021b, 1 / 3], [2021, pred2021c, 2 / 3],
  [2022, pred2022, 0], [2022, pred2022b, 1 / 3], [2022, pred2022c, 2 / 3],
  [2023, pred2023, 0], [2023, pred2023b, 1 / 3], [2023, pred2023c, 2 / 3],
];

const xTicks = [2012, 2014, 2016, 2018, 2020, 2022];
const yTicks = [0, -2, -4, -6, -8, -10, -12, -14];
const TITLE = "True and Predicted Returns of 000718";

const toPoints = (chunks: Chunk[], extra: [number, number][]) => {
  const pts: [number, number][] = [];
  chunks.forEach(([yr, vals, phase]) => {
    const offset = yr === 2011 ? 48 - vals.length : 0;
    vals.forEach((v, i) => pts.push([yr + (offset + i + phase) * STEP, v]));
  });
  return pts.concat(extra);
};

const width = 1000;
const height = 600;
const margin = { left: 125, right: 100, top: 72, bottom: 66 };
const FONT = "DejaVu Sans Mono";

const Label = ({ s, x, y, size, anchor = "start" }: { s: string; x: number; y: number; size: number; anchor?: string }) => (
  <text
    x={x}
    y={y}
    fontSize={size}
    fontFamily={FONT}
    textAnchor={anchor}
    textLength={s.length * size * 0.5}
    lengthAdjust="spacingAndGlyphs"
    fill="#000"
  >
    {s}
  </text>
);

const App: React.FC = () => {
  const truePts = toPoints(trueChunks, trueOutliers);
  const predPts = toPoints(predChunks, predOutliers);
  const all = truePts.concat(predPts);

  const [x0, x1] = d3.extent(all, (d) => d[0]) as [number, number];
  const [y0, y1] = d3.extent(all, (d) => d[1]) as [number, number];
  const px = (x1 - x0) * 0.05;
  const py = (y1 - y0) * 0.05;

  const x = d3.scaleLinear().domain([x0 - px, x1 + px]).range([margin.left, width - margin.right]);
  const y = d3.scaleLinear().domain([y0 - py, y1 + py]).range([height - margin.bottom, margin.top]);

  const r = 2.2;
  const blue = "#1f77b4";
  const orange = "#ff7f0e";
  const fmt = (v: number) => (v < 0 ? "\u2212" + Math.abs(v) : String(v));

  return (
    <svg width={width} height={height} style={{ position: "fixed", left: 0, top: 0, background: "#fff" }}>
      <rect width={width} height={height} fill="#fff" />
      <g>
        {truePts.map((d, i) => (
          <circle key={"t" + i} cx={x(d[0])} cy={y(d[1])} r={r} fill={blue} />
        ))}
      </g>
      <g>
        {predPts.map((d, i) => (
          <circle key={"p" + i} cx={x(d[0])} cy={y(d[1])} r={r} fill={orange} />
        ))}
      </g>

      <rect
        x={margin.left}
        y={margin.top}
        width={width - margin.left - margin.right}
        height={height - margin.top - margin.bottom}
        fill="none"
        stroke="#000"
        strokeWidth={1.1}
      />

      {xTicks.map((t) => (
        <g key={"x" + t}>
          <line x1={x(t)} x2={x(t)} y1={height - margin.bottom} y2={height - margin.bottom + 4.9} stroke="#000" strokeWidth={1.1} />
          <Label s={String(t)} x={x(t)} y={554.5} size={13.9} anchor="middle" />
        </g>
      ))}
      {yTicks.map((t) => (
        <g key={"y" + t}>
          <line x1={margin.left - 4.9} x2={margin.left} y1={y(t)} y2={y(t)} stroke="#000" strokeWidth={1.1} />
          <Label s={fmt(t)} x={116} y={y(t) + 4.8} size={13.9} anchor="end" />
        </g>
      ))}

      <Label s={TITLE} x={(margin.left + width - margin.right) / 2} y={64.5} size={16.7} anchor="middle" />

      <g>
        <rect x={132.5} y={79.5} width={112} height={41} rx={2.8} fill="#fff" fillOpacity={0.8} stroke="#cccccc" strokeWidth={1} />
        <circle cx={151.7} cy={90.5} r={r} fill={blue} />
        <circle cx={151.7} cy={109.5} r={r} fill={orange} />
        <Label s="True" x={176.7} y={95} size={13.9} />
        <Label s="Predicted" x={176.7} y={113.8} size={13.9} />
      </g>
    </svg>
  );
};

export default App;
